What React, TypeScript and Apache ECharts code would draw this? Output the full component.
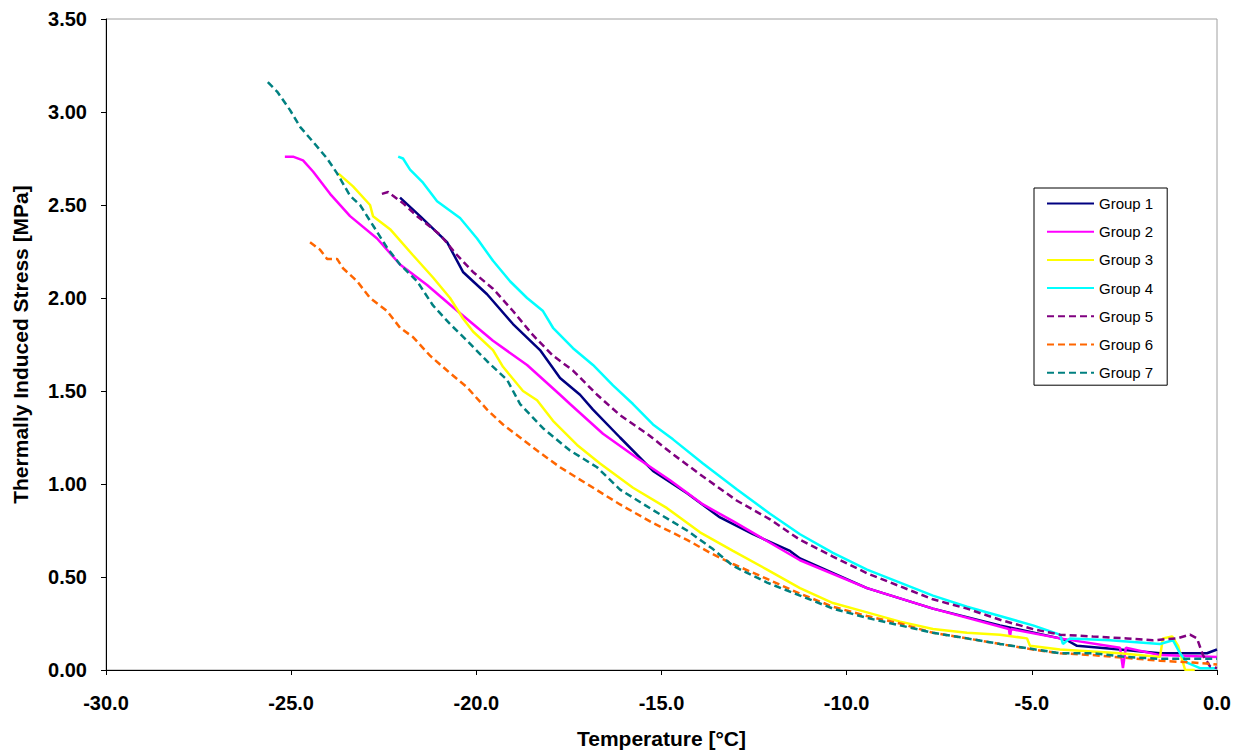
import React, { useEffect, useRef } from "react";
import * as echarts from "echarts";

// ---- Data ----
const xTicks = [-30, -25, -20, -15, -10, -5, 0];
const yTicks = [0, 0.5, 1.0, 1.5, 2.0, 2.5, 3.0, 3.5];

const groupNames = ["Group 1", "Group 2", "Group 3", "Group 4", "Group 5", "Group 6", "Group 7"];
const groupColors = ["#000080", "#FF00FF", "#FFFF00", "#00FFFF", "#800080", "#FF6600", "#008080"];
const groupDashed = [false, false, false, false, true, true, true];

const g1T = [-22.06, -21.52, -20.79, -20.36, -19.71, -19.01, -18.28, -17.74, -17.2, -16.85, -16.12, -15.23, -14.31, -13.42, -12.53, -11.53, -11.26, -9.45, -7.67, -5.86, -4.24, -4.05, -3.78, -2.62, -1.54, -0.27, 0];
const g1S = [2.54, 2.44, 2.3, 2.14, 2.02, 1.86, 1.72, 1.57, 1.48, 1.4, 1.25, 1.07, 0.95, 0.82, 0.73, 0.64, 0.6, 0.44, 0.33, 0.24, 0.17, 0.16, 0.13, 0.11, 0.09, 0.09, 0.11];

const g2T = [-25.17, -24.95, -24.68, -24.41, -23.95, -23.41, -22.68, -22.06, -21.33, -20.63, -19.55, -18.63, -17.74, -17.47, -16.58, -15.66, -14.77, -13.88, -13.07, -11.26, -9.45, -7.67, -5.62, -5.59, -5.56, -4.24, -2.62, -2.54, -2.46, -1.54, 0];
const g2S = [2.76, 2.76, 2.74, 2.68, 2.56, 2.44, 2.32, 2.18, 2.07, 1.95, 1.77, 1.64, 1.48, 1.43, 1.27, 1.14, 1.02, 0.89, 0.8, 0.59, 0.44, 0.33, 0.22, 0.18, 0.22, 0.17, 0.12, 0.01, 0.12, 0.08, 0.07];

const g3T = [-23.73, -23.33, -22.87, -22.79, -22.33, -21.71, -21.17, -20.71, -20.36, -20.09, -19.55, -19.28, -18.74, -18.36, -17.93, -17.28, -16.66, -15.77, -14.85, -13.96, -13.07, -12.15, -11.26, -10.37, -9.45, -8.56, -7.67, -6.75, -5.86, -5.13, -5.05, -4.24, -2.62, -1.54, -1.46, -1.21, -1.05, -0.86, -0.6];
const g3S = [2.67, 2.6, 2.5, 2.44, 2.37, 2.23, 2.11, 2.0, 1.89, 1.82, 1.72, 1.63, 1.5, 1.45, 1.34, 1.21, 1.11, 0.98, 0.87, 0.74, 0.64, 0.54, 0.44, 0.36, 0.31, 0.26, 0.22, 0.2, 0.19, 0.17, 0.13, 0.11, 0.09, 0.07, 0.17, 0.18, 0.13, 0.0, 0.0];

const g4T = [-22.11, -21.98, -21.79, -21.44, -21.06, -20.44, -19.98, -19.55, -19.09, -18.63, -18.2, -17.93, -17.39, -16.85, -16.31, -15.77, -15.23, -14.69, -13.88, -12.96, -12.07, -11.26, -10.37, -9.45, -8.56, -7.67, -6.75, -5.86, -4.97, -4.24, -4.16, -3.97, -2.89, -1.54, -1.19, -1.0, -0.81, -0.46, 0];
const g4S = [2.76, 2.75, 2.69, 2.62, 2.52, 2.43, 2.32, 2.2, 2.09, 2.0, 1.93, 1.84, 1.73, 1.64, 1.53, 1.43, 1.32, 1.24, 1.11, 0.97, 0.84, 0.73, 0.63, 0.54, 0.47, 0.4, 0.34, 0.29, 0.24, 0.19, 0.14, 0.17, 0.16, 0.14, 0.16, 0.09, 0.04, 0.01, 0.01];

const g5T = [-22.55, -22.38, -22.25, -21.98, -21.6, -20.98, -20.52, -20.09, -19.55, -19.01, -18.47, -17.93, -17.39, -16.74, -16.12, -15.39, -14.69, -13.88, -12.96, -12.07, -11.26, -10.37, -9.45, -8.56, -7.67, -6.75, -5.86, -4.97, -4.24, -3.35, -2.43, -1.73, -1.08, -0.73, -0.54, -0.38, -0.19, 0];
const g5S = [2.56, 2.57, 2.55, 2.51, 2.44, 2.34, 2.23, 2.14, 2.05, 1.93, 1.8, 1.69, 1.61, 1.48, 1.37, 1.27, 1.16, 1.04, 0.91, 0.81, 0.7, 0.61, 0.52, 0.45, 0.38, 0.33, 0.27, 0.22, 0.19, 0.18, 0.17, 0.16, 0.17, 0.19, 0.17, 0.08, 0.02, 0.01];

const g6T = [-24.49, -24.22, -24.03, -23.76, -23.6, -23.22, -22.87, -22.41, -22.06, -21.71, -21.25, -20.79, -20.25, -19.71, -19.28, -18.82, -18.36, -17.74, -17.01, -16.12, -15.23, -14.31, -13.69, -13.07, -12.15, -11.26, -10.37, -9.45, -8.56, -7.67, -6.75, -5.86, -4.97, -4.24, -3.35, -1.54, -0.65, 0];
const g6S = [2.3, 2.26, 2.21, 2.21, 2.16, 2.09, 2.0, 1.93, 1.84, 1.79, 1.69, 1.61, 1.52, 1.4, 1.32, 1.25, 1.18, 1.09, 1.0, 0.89, 0.79, 0.7, 0.63, 0.57, 0.49, 0.41, 0.34, 0.29, 0.25, 0.2, 0.17, 0.14, 0.11, 0.09, 0.08, 0.05, 0.04, 0.03];

const g7T = [-25.63, -25.38, -25.03, -24.76, -24.41, -24.03, -23.76, -23.41, -23.14, -22.79, -22.41, -22.06, -21.6, -21.17, -20.71, -20.25, -19.71, -19.17, -18.82, -18.2, -17.47, -16.74, -16.12, -15.23, -14.31, -13.61, -13.07, -12.15, -11.26, -10.37, -9.45, -8.56, -7.67, -6.75, -5.86, -4.24, -3.35, -2.43, -1.54, 0];
const g7S = [3.16, 3.11, 3.01, 2.92, 2.84, 2.75, 2.67, 2.55, 2.5, 2.39, 2.27, 2.18, 2.09, 1.96, 1.86, 1.77, 1.66, 1.56, 1.43, 1.3, 1.18, 1.09, 0.97, 0.86, 0.75, 0.65, 0.56, 0.47, 0.4, 0.33, 0.28, 0.24, 0.2, 0.17, 0.14, 0.09, 0.09, 0.07, 0.06, 0.06];

const allT = [g1T, g2T, g3T, g4T, g5T, g6T, g7T];
const allS = [g1S, g2S, g3S, g4S, g5S, g6S, g7S];

const FONT = "'Liberation Sans', Arial, Helvetica, sans-serif";

export default function App() {
  const ref = useRef<HTMLDivElement>(null);

  useEffect(() => {
    if (!ref.current) return;
    const chart = echarts.init(ref.current, undefined, { renderer: "svg" });

    const series = groupNames.map((name, i) => ({
      name,
      type: "line",
      data: allT[i].map((t, j) => [t, allS[i][j]]),
      symbol: "none",
      showSymbol: false,
      lineStyle: {
        color: groupColors[i],
        width: 2.5,
        type: groupDashed[i] ? [7, 4] : "solid",
      },
      itemStyle: { color: groupColors[i] },
      z: 2 + i,
    }));

    chart.setOption({
      animation: false,
      backgroundColor: "#ffffff",
      textStyle: { fontFamily: FONT },
      grid: {
        left: 106,
        right: 20,
        top: 19,
        bottom: 80,
        show: true,
        borderColor: "#a0a0a0",
        borderWidth: 1,
        backgroundColor: "transparent",
      },
      legend: {
        data: groupNames,
        orient: "vertical",
        left: 1034,
        top: 188,
        itemWidth: 47,
        itemHeight: 14,
        itemGap: 13.2,
        padding: [8, 14, 5, 12],
        borderColor: "#000",
        borderWidth: 1,
        backgroundColor: "#fff",
        itemStyle: { opacity: 0, borderWidth: 0 },
        textStyle: { fontSize: 15, color: "#000", fontFamily: FONT },
      },
      xAxis: {
        type: "value",
        min: xTicks[0],
        max: xTicks[xTicks.length - 1],
        interval: 5,
        name: "Temperature [°C]",
        nameLocation: "middle",
        nameGap: 58,
        nameTextStyle: { fontSize: 21, fontWeight: "bold", color: "#000", fontFamily: FONT },
        splitLine: { show: false },
        axisLine: { show: true, onZero: false, lineStyle: { color: "#000", width: 1 } },
        axisTick: { show: true, inside: false, length: 5, lineStyle: { color: "#000" } },
        axisLabel: {
          margin: 23,
          fontSize: 20,
          fontWeight: "bold",
          color: "#000",
          fontFamily: FONT,
          formatter: (v: number) => v.toFixed(1),
        },
      },
      yAxis: {
        type: "value",
        min: yTicks[0],
        max: yTicks[yTicks.length - 1],
        interval: 0.5,
        name: "Thermally Induced Stress [MPa]",
        nameLocation: "middle",
        nameGap: 75,
        nameTextStyle: { fontSize: 21, fontWeight: "bold", color: "#000", fontFamily: FONT },
        splitLine: { show: false },
        axisLine: { show: true, onZero: false, lineStyle: { color: "#000", width: 1 } },
        axisTick: { show: true, inside: false, length: 5, lineStyle: { color: "#000" } },
        axisLabel: {
          margin: 19,
          fontSize: 20,
          fontWeight: "bold",
          color: "#000",
          fontFamily: FONT,
          formatter: (v: number) => v.toFixed(2),
        },
      },
      series,
    });

    return () => chart.dispose();
  }, []);

  return (
    <div
      ref={ref}
      style={{ position: "fixed", left: 0, top: 0, width: 1237, height: 754, background: "#fff" }}
    />
  );
}
